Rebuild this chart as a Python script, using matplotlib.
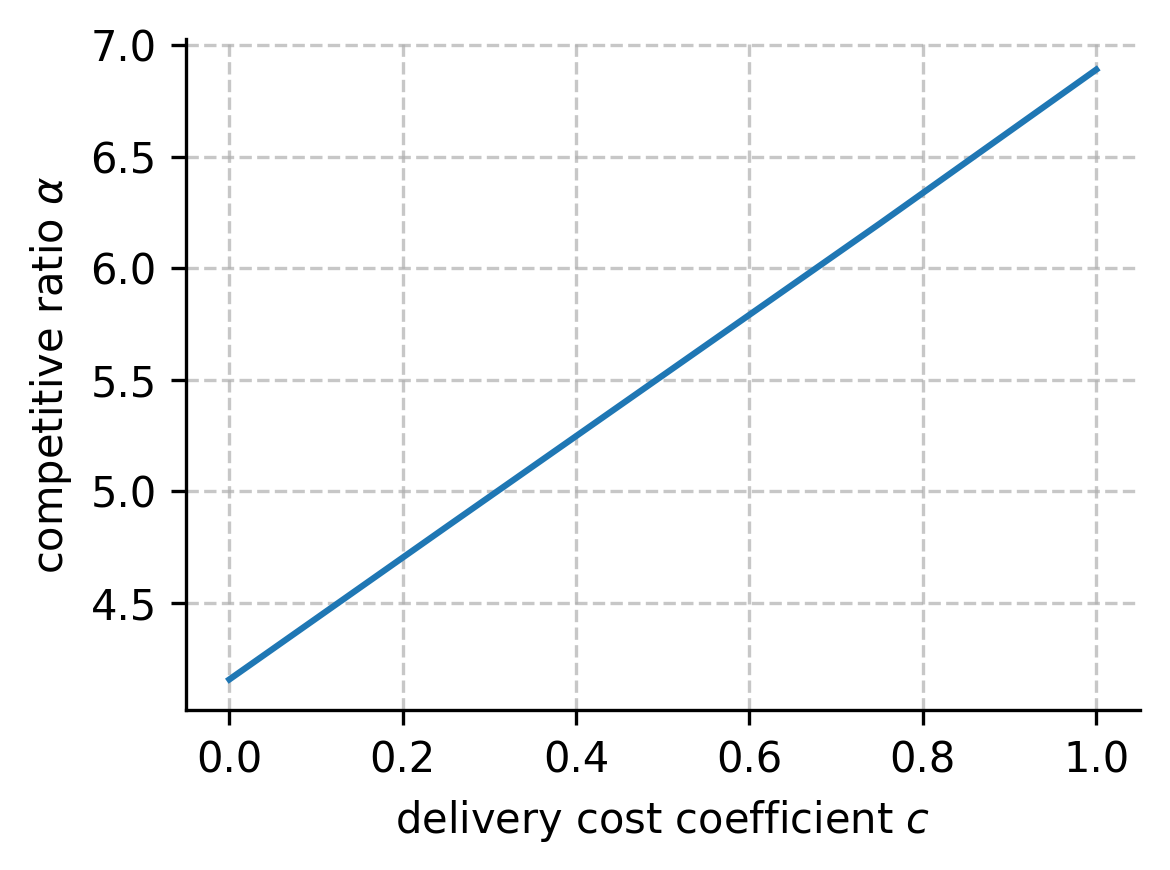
import matplotlib
matplotlib.use("Agg")
import matplotlib.pyplot as plt

# delivery cost coefficient c vs competitive ratio alpha
c_values = [0.0, 0.25, 0.5, 0.75, 1.0]
alpha_values = [4.157, 4.84, 5.52, 6.20, 6.891]

fig, ax = plt.subplots(figsize=(3.9, 2.9), dpi=300)
ax.plot(c_values, alpha_values, color='#1f77b4', linewidth=1.5)

ax.set_xlabel(r'delivery cost coefficient $c$')
ax.set_ylabel(r'competitive ratio $\alpha$')
ax.grid(True, linestyle='--', color='#b0b0b0', alpha=0.7, linewidth=0.8)
ax.spines['top'].set_visible(False)
ax.spines['right'].set_visible(False)

fig.subplots_adjust(left=0.159, right=0.974, top=0.955, bottom=0.184)
fig.savefig('out.png', dpi=300)
